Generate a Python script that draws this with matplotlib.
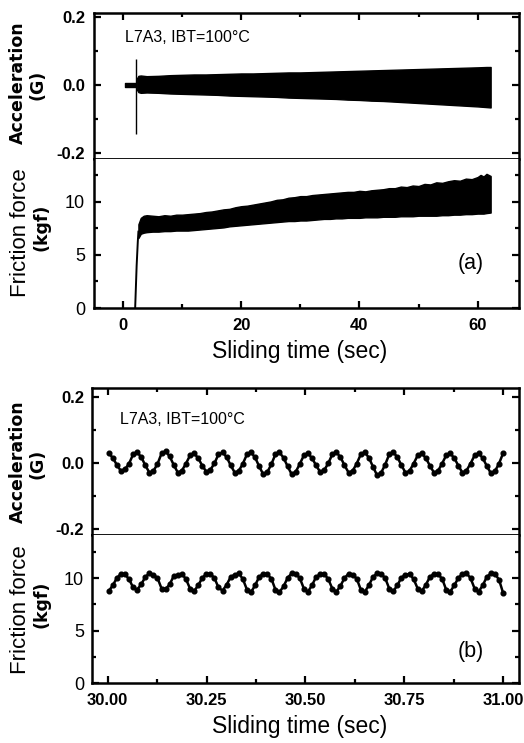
import matplotlib
matplotlib.use("Agg")
import matplotlib.pyplot as plt
from matplotlib import font_manager
from matplotlib.ticker import MultipleLocator, FixedLocator
import numpy as np

names = {f.name for f in font_manager.fontManager.ttflist}
NARROW = "Liberation Sans Narrow" if "Liberation Sans Narrow" in names else "Liberation Sans"
SANS = "Liberation Sans"

# ---------------- Panel (a) data ----------------
t_pre = [0.35, 2.2]
acc_pre_hi = [0.007, 0.007]
acc_pre_lo = [-0.007, -0.007]
spike_t = 2.2
spike_lo, spike_hi = -0.145, 0.077

t_acc_a = [2.3, 2.6, 3.0, 4, 6, 8, 10, 12, 14, 16, 18, 20, 22, 24, 26, 28, 30, 32,
           34, 36, 38, 40, 42, 44, 46, 48, 50, 52, 54, 56, 58, 60, 61.5, 62.2]
acc_a_hi = [0.018, 0.027, 0.028, 0.026, 0.027, 0.029, 0.030, 0.031, 0.031, 0.032, 0.033,
            0.034, 0.034, 0.035, 0.036, 0.037, 0.037, 0.038, 0.039, 0.040, 0.041, 0.042,
            0.043, 0.044, 0.045, 0.046, 0.047, 0.048, 0.049, 0.050, 0.051, 0.052, 0.053, 0.053]
acc_a_lo = [-0.012, -0.021, -0.023, -0.022, -0.023, -0.025, -0.026, -0.027, -0.028, -0.029,
            -0.031, -0.032, -0.033, -0.034, -0.035, -0.037, -0.038, -0.039, -0.040, -0.041,
            -0.043, -0.044, -0.046, -0.047, -0.049, -0.051, -0.053, -0.055, -0.057, -0.059,
            -0.061, -0.063, -0.065, -0.066]

t_rise = [2.05, 2.3, 2.5, 2.6]
f_rise = [0.0, 4.0, 6.3, 7.2]
t_fr_a = [2.6, 3.0, 3.5, 4, 5, 6, 7, 8, 9, 10, 11, 12, 13, 14, 15, 16, 17, 18, 19, 20,
          21, 22, 23, 24, 25, 26, 27, 28, 29, 30, 31, 32, 33, 34, 35, 36, 37, 38, 39, 40,
          41, 42, 43, 44, 45, 46, 47, 48, 49, 50, 51, 52, 53, 54, 55, 56, 57, 58, 59, 60,
          60.5, 61, 61.5, 62.2]
fr_a_hi = [7.9, 8.5, 8.7, 8.75, 8.7, 8.65, 8.75, 8.7, 8.8, 8.8, 8.85, 8.9, 8.95, 9.05,
           9.1, 9.2, 9.3, 9.35, 9.5, 9.6, 9.65, 9.75, 9.85, 9.95, 10.05, 10.2, 10.25, 10.4,
           10.45, 10.55, 10.55, 10.65, 10.7, 10.75, 10.8, 10.85, 10.9, 10.95, 10.95, 11.05,
           11.0, 11.1, 11.15, 11.2, 11.3, 11.3, 11.45, 11.4, 11.55, 11.5, 11.7, 11.65, 11.85,
           11.8, 11.95, 12.05, 12.0, 12.2, 12.15, 12.35, 12.55, 12.4, 12.65, 12.45]
fr_a_lo = [6.6, 7.0, 7.1, 7.15, 7.2, 7.2, 7.25, 7.25, 7.3, 7.3, 7.3, 7.35, 7.4, 7.45,
           7.5, 7.55, 7.6, 7.7, 7.75, 7.8, 7.85, 7.9, 7.95, 8.0, 8.05, 8.1, 8.15, 8.2,
           8.2, 8.25, 8.25, 8.3, 8.35, 8.4, 8.4, 8.45, 8.45, 8.5, 8.5, 8.5, 8.55, 8.55,
           8.55, 8.6, 8.6, 8.6, 8.65, 8.65, 8.65, 8.7, 8.7, 8.7, 8.7, 8.75, 8.75, 8.8, 8.8,
           8.85, 8.85, 8.9, 8.9, 8.9, 8.95, 9.0]

# ---------------- Panel (b) data ----------------
t_start_b = 30.0025
dt_b = 0.01028
acc_b = [0.029, 0.016, -0.006, -0.024, -0.019, -0.002, 0.026,
         0.032, 0.018, -0.007, -0.029, -0.024, -0.003, 0.029,
         0.035, 0.020, -0.006, -0.029, -0.023, -0.002, 0.023,
         0.029, 0.015, -0.008, -0.026, -0.021, -0.001, 0.026,
         0.032, 0.018, -0.007, -0.029, -0.024, -0.002, 0.026,
         0.032, 0.017, -0.010, -0.034, -0.028, -0.004, 0.026,
         0.032, 0.016, -0.010, -0.034, -0.027, -0.003, 0.023,
         0.029, 0.015, -0.007, -0.027, -0.022, -0.001, 0.026,
         0.032, 0.018, -0.007, -0.029, -0.024, -0.002, 0.026,
         0.032, 0.016, -0.011, -0.037, -0.030, -0.005, 0.026,
         0.032, 0.018, -0.007, -0.029, -0.024, -0.002, 0.023,
         0.029, 0.015, -0.008, -0.029, -0.024, -0.002, 0.023,
         0.029, 0.015, -0.008, -0.029, -0.023, -0.002, 0.023,
         0.029, 0.015, -0.009, -0.031, -0.025, -0.002, 0.029]
fr_b = [8.75, 9.3, 10.0, 10.4, 10.35, 9.9, 9.1,
        8.9, 9.4, 10.1, 10.45, 10.3, 10.0, 9.0,
        8.95, 9.4, 10.2, 10.3, 10.4, 9.9, 9.0,
        8.75, 9.3, 10.0, 10.4, 10.4, 10.0, 9.1,
        8.8, 9.35, 10.1, 10.3, 10.45, 9.9, 8.9,
        8.65, 9.3, 10.1, 10.4, 10.35, 9.95, 8.9,
        8.65, 9.2, 10.0, 10.45, 10.4, 10.0, 9.0,
        8.7, 9.3, 10.1, 10.35, 10.4, 9.9, 9.0,
        8.7, 9.25, 10.0, 10.4, 10.3, 9.95, 8.9,
        8.7, 9.3, 10.1, 10.45, 10.4, 10.0, 9.0,
        8.75, 9.3, 10.05, 10.3, 10.4, 9.9, 9.0,
        8.75, 9.35, 10.1, 10.4, 10.35, 9.95, 8.9,
        8.7, 9.3, 10.0, 10.4, 10.45, 10.0, 9.0,
        8.7, 9.3, 10.1, 10.45, 10.4, 9.85, 8.6]
t_b = t_start_b + dt_b * np.arange(len(acc_b))

label_text = "L7A3, IBT=100\u00b0C"
xticks_a = [0, 20, 40, 60]
xticks_b = [30.00, 30.25, 30.50, 30.75, 31.00]
xticklabels_b = ["30.00", "30.25", "30.50", "30.75", "31.00"]

W, H = 524, 743
fig = plt.figure(figsize=(W / 100, H / 100), dpi=100)


def rect(l, r, t, b):
    return [l / W, 1 - b / H, (r - l) / W, (b - t) / H]


def style(ax, top_panel):
    for s in ax.spines.values():
        s.set_linewidth(1.8)
    if top_panel:
        ax.spines["bottom"].set_linewidth(1.3)
        ax.tick_params(which="both", direction="in", top=True, bottom=False,
                       left=True, right=True, labelbottom=False)
    else:
        ax.spines["top"].set_visible(False)
        ax.tick_params(which="both", direction="in", top=False, bottom=True,
                       left=True, right=True)
    ax.tick_params(which="major", length=5, width=1.6)
    ax.tick_params(which="minor", length=3, width=1.6)


def build(tl, tm, tb, l, r, xlim, acc_ylim, fr_ylim, xmaj, xmin):
    ax1 = fig.add_axes(rect(l, r, tl, tm))
    ax2 = fig.add_axes(rect(l, r, tm, tb))
    for ax in (ax1, ax2):
        ax.set_xlim(*xlim)
        ax.xaxis.set_major_locator(FixedLocator(xmaj))
        ax.xaxis.set_minor_locator(MultipleLocator(xmin))
    ax1.set_ylim(*acc_ylim)
    ax2.set_ylim(*fr_ylim)
    ax1.yaxis.set_major_locator(FixedLocator([-0.2, 0.0, 0.2]))
    ax1.yaxis.set_minor_locator(FixedLocator([-0.1, 0.1]))
    ax1.set_yticklabels(["-0.2", "0.0", "0.2"], fontfamily=SANS, fontweight="bold", fontsize=12)
    ax2.yaxis.set_major_locator(FixedLocator([0, 5, 10]))
    ax2.yaxis.set_minor_locator(FixedLocator([2.5, 7.5, 12.5]))
    ax2.set_yticklabels(["0", "5", "10"], fontfamily=NARROW, fontsize=13)
    style(ax1, True)
    style(ax2, False)
    ax1.tick_params(axis="y", pad=6)
    ax2.tick_params(axis="y", pad=6)
    ax2.tick_params(axis="x", pad=7)
    return ax1, ax2


# ---- panel a ----
a1, a2 = build(13, 159, 308, 93.5, 519, (-5, 67), (-0.2176, 0.2118), (0, 14.05), xticks_a, 10)
a2.set_xticklabels([str(v) for v in xticks_a], fontfamily=SANS, fontweight="bold", fontsize=12)
a1.fill_between(t_pre, acc_pre_lo, acc_pre_hi, color="black", lw=1.0)
a1.vlines(spike_t, spike_lo, spike_hi, color="black", lw=1.0)
a1.fill_between(t_acc_a, acc_a_lo, acc_a_hi, color="black", lw=1.0)
a2.plot(t_rise, f_rise, color="black", lw=1.4)
a2.fill_between(t_fr_a, fr_a_lo, fr_a_hi, color="black", lw=1.0)
fig.text(125 / W, 1 - 37.5 / H, label_text, fontfamily=NARROW,
         fontsize=11.5, va="center", ha="left")
fig.text(471 / W, 1 - 264 / H, "(a)", fontfamily=SANS, fontsize=15.5, ha="center", va="center")

# ---- panel b ----
b1, b2 = build(388, 535, 683, 92.3, 519, (29.961, 31.04), (-0.218, 0.227), (0, 14.1),
               xticks_b, 0.125)
b2.set_xticklabels(xticklabels_b, fontfamily=SANS, fontweight="bold", fontsize=12)
b1.plot(t_b, acc_b, color="black", lw=1.8, marker="o", ms=3.4)
b2.plot(t_b, fr_b, color="black", lw=1.8, marker="o", ms=3.4)
fig.text(120 / W, 1 - 419 / H, label_text, fontfamily=NARROW, fontsize=11.5,
         va="center", ha="left")
fig.text(471 / W, 1 - 651 / H, "(b)", fontfamily=SANS, fontsize=15.5, ha="center", va="center")

# ---- axis titles ----
for (yc_acc, yc_fr, yc_x) in [(83, 233, 352), (462, 610, 726)]:
    fig.text(18 / W, 1 - yc_acc / H, "Acceleration", rotation=90, fontfamily="DejaVu Sans",
             fontweight="bold", fontsize=12.5, ha="center", va="center")
    fig.text(38 / W, 1 - (yc_acc + 2) / H, "(G)", rotation=90, fontfamily="DejaVu Sans",
             fontweight="bold", fontsize=12.5, ha="center", va="center")
    fig.text(21 / W, 1 - yc_fr / H, "Friction force", rotation=90, fontfamily=SANS,
             fontsize=16, ha="center", va="center")
    fig.text(42 / W, 1 - (yc_fr - 6) / H, "(kgf)", rotation=90, fontfamily="DejaVu Sans",
             fontweight="bold", fontsize=12.5, ha="center", va="center")
    fig.text(300 / W, 1 - yc_x / H, "Sliding time (sec)", fontfamily=SANS, fontsize=16.5,
             ha="center", va="center")

fig.savefig("out.png", dpi=100)
